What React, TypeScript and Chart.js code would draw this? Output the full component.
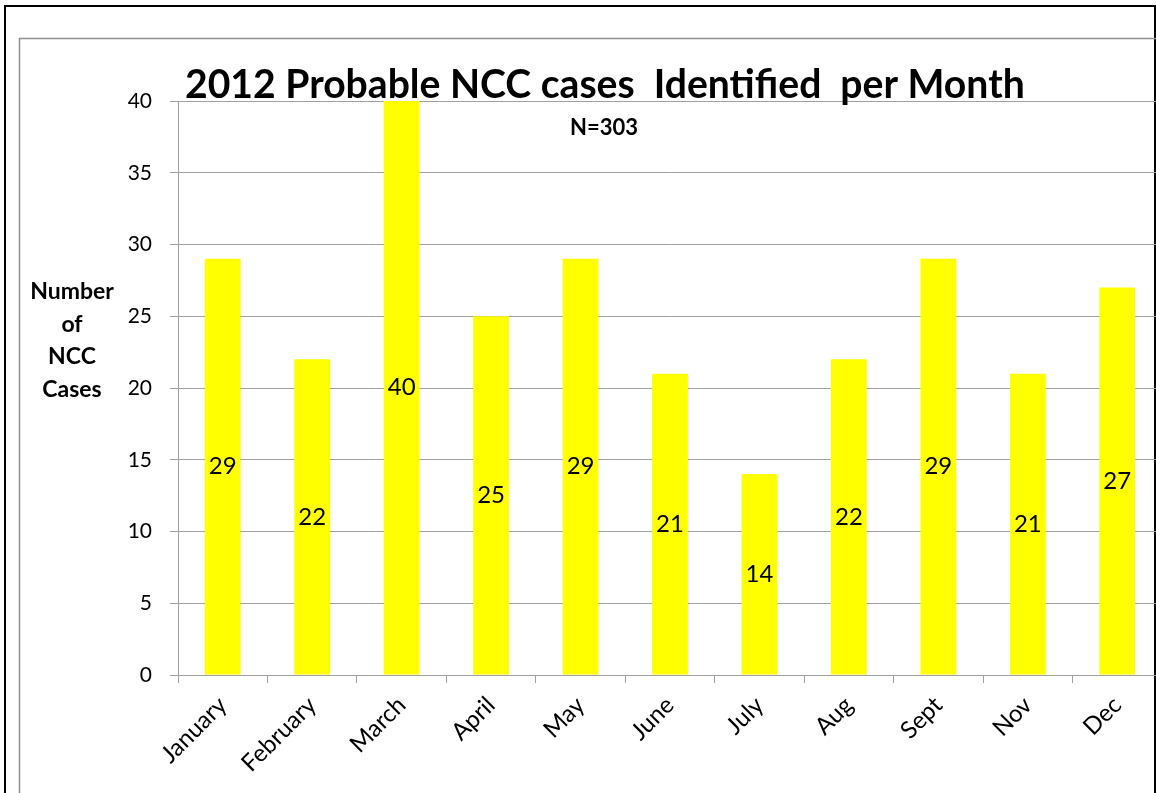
import React, { useEffect, useRef } from "react";
import { Chart, registerables } from "chart.js";

Chart.register(...registerables);

// Monthly counts of probable NCC cases identified in 2012
const months = ["January", "February", "March", "April", "May", "June", "July", "Aug", "Sept", "Nov", "Dec"];
const cases = [29, 22, 40, 25, 29, 21, 14, 22, 29, 21, 27];
const yTicks = [0, 5, 10, 15, 20, 25, 30, 35, 40];

const chartTitle = "2012 Probable NCC cases  Identified  per Month";
const subTitle = "N=303";
const yTitleLines = ["Number", "of", "NCC", "Cases"];

const FONT = "Lato, 'Open Sans', 'DejaVu Sans', sans-serif";
const GRID = "#a0a0a0";
const CANVAS_W = 1180;
const CANVAS_H = 793;

// Frame, titles, axis title and in-bar value labels
const decorations = {
  id: "decorations",
  beforeDraw(chart: any) {
    const ctx = chart.ctx;
    ctx.save();
    ctx.fillStyle = "#ffffff";
    ctx.fillRect(0, 0, chart.width, chart.height);
    // outer dark frame
    ctx.strokeStyle = "#000000";
    ctx.lineWidth = 2;
    ctx.strokeRect(5, 6, 1150, 900);
    // inner chart-area frame
    ctx.strokeStyle = "#8f8f8f";
    ctx.lineWidth = 1.5;
    ctx.strokeRect(19.5, 38.5, 1200, 900);
    ctx.restore();
  },
  afterDraw(chart: any) {
    const ctx = chart.ctx;
    ctx.save();
    ctx.fillStyle = "#000000";
    // main title, sized to its line
    let size = 36;
    ctx.font = `bold ${size}px ${FONT}`;
    const w = ctx.measureText(chartTitle).width;
    size = (size * 840) / w;
    ctx.font = `bold ${size}px ${FONT}`;
    ctx.textAlign = "left";
    ctx.textBaseline = "alphabetic";
    ctx.fillText(chartTitle, 185, 98);
    // subtitle
    ctx.font = `bold 22px ${FONT}`;
    ctx.textAlign = "center";
    ctx.fillText(subTitle, 604, 135);
    // y axis title
    ctx.font = `bold 23px ${FONT}`;
    yTitleLines.forEach((line, i) => {
      ctx.fillText(line, 72, 299 + i * 32.6);
    });
    ctx.restore();
  },
  afterDatasetsDraw(chart: any) {
    const ctx = chart.ctx;
    const meta = chart.getDatasetMeta(0);
    const data = chart.data.datasets[0].data as number[];
    ctx.save();
    ctx.fillStyle = "#000000";
    ctx.font = `24px ${FONT}`;
    ctx.textAlign = "center";
    ctx.textBaseline = "middle";
    meta.data.forEach((bar: any, i: number) => {
      ctx.fillText(String(data[i]), bar.x, (bar.y + bar.base) / 2);
    });
    ctx.restore();
  },
};

export default function App() {
  const canvasRef = useRef<HTMLCanvasElement | null>(null);

  useEffect(() => {
    const canvas = canvasRef.current;
    if (!canvas) return;
    const chart = new Chart(canvas, {
      type: "bar",
      data: {
        labels: months,
        datasets: [
          {
            data: cases,
            backgroundColor: "#ffff00",
            borderWidth: 0,
            categoryPercentage: 1,
            barPercentage: 0.4,
          },
        ],
      },
      options: {
        responsive: false,
        animation: false,
        devicePixelRatio: 1,
        layout: { padding: { top: 101, left: 0, right: CANVAS_W - 1162, bottom: 0 } },
        plugins: {
          legend: { display: false },
          title: { display: false },
          tooltip: { enabled: false },
        },
        scales: {
          x: {
            afterFit(scale: any) {
              scale.height = CANVAS_H - 675;
            },
            grid: {
              offset: true,
              drawOnChartArea: false,
              drawTicks: true,
              tickLength: 8,
              color: GRID,
              lineWidth: 1,
            },
            border: { display: true, color: GRID, width: 1 },
            ticks: {
              autoSkip: false,
              minRotation: 45,
              maxRotation: 45,
              padding: 8,
              color: "#000000",
              font: { family: FONT, size: 24 },
            },
          },
          y: {
            min: 0,
            max: 40,
            afterFit(scale: any) {
              scale.width = 178;
            },
            afterBuildTicks(scale: any) {
              scale.ticks = yTicks.map((v) => ({ value: v }));
            },
            grid: {
              drawTicks: true,
              tickLength: 8,
              color: GRID,
              lineWidth: 1,
            },
            border: { display: true, color: GRID, width: 1 },
            ticks: {
              padding: 18,
              color: "#000000",
              font: { family: FONT, size: 21 },
            },
          },
        },
      },
      plugins: [decorations],
    });
    return () => chart.destroy();
  }, []);

  return (
    <div style={{ position: "fixed", left: 0, top: 0, width: 1156, height: 793, overflow: "hidden", background: "#fff" }}>
      <canvas ref={canvasRef} width={CANVAS_W} height={CANVAS_H} style={{ display: "block", width: CANVAS_W, height: CANVAS_H }} />
    </div>
  );
}
